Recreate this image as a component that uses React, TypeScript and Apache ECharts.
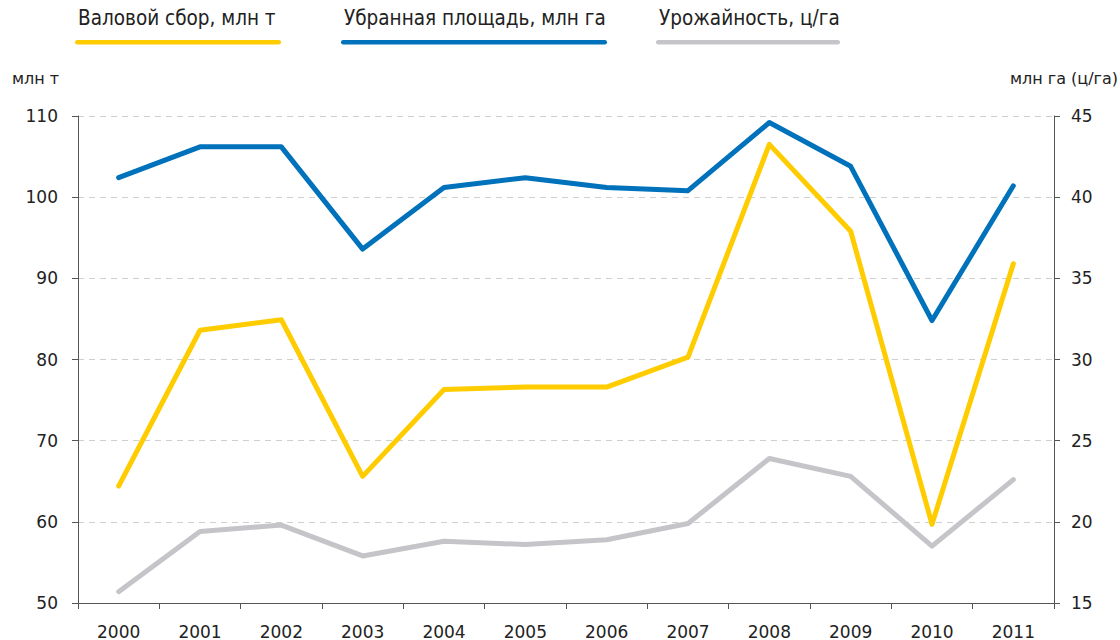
import React, { useEffect, useRef } from "react";
import * as echarts from "echarts";

const years = ["2000", "2001", "2002", "2003", "2004", "2005", "2006", "2007", "2008", "2009", "2010", "2011"];
const seriesNames = ["Валовой сбор, млн т", "Убранная площадь, млн га", "Урожайность, ц/га"];
const grossHarvest = [64.4, 83.6, 84.9, 65.6, 76.3, 76.6, 76.6, 80.3, 106.5, 95.8, 59.7, 91.8];
const harvestedArea = [41.2, 43.1, 43.1, 36.8, 40.6, 41.2, 40.6, 40.4, 44.6, 41.9, 32.4, 40.7];
const yieldPerHa = [15.7, 19.4, 19.8, 17.9, 18.8, 18.6, 18.9, 19.9, 23.9, 22.8, 18.5, 22.6];
const leftAxisName = "млн т";
const rightAxisName = "млн га (ц/га)";

const colors = ["#FFCC00", "#0071BB", "#C5C5C9"];
const FONT = "DejaVu Sans";
const LEGEND_FONT = "DejaVu Sans Condensed";

export default function App() {
  const ref = useRef<HTMLDivElement>(null);
  useEffect(() => {
    if (!ref.current) return;
    const chart = echarts.init(ref.current, null, { renderer: "svg" });
    const legendPos = [
      { tx: 78, lx1: 75, lx2: 281 },
      { tx: 344, lx1: 341, lx2: 607 },
      { tx: 659, lx1: 656, lx2: 840 },
    ];
    const graphic: any[] = [];
    seriesNames.forEach((name, i) => {
      const p = legendPos[i];
      graphic.push({
        type: "text",
        left: p.tx,
        top: 7,
        style: { text: name, font: `20.5px '${LEGEND_FONT}'`, fill: "#222" },
      });
      graphic.push({
        type: "rect",
        shape: { x: p.lx1, y: 40, width: p.lx2 - p.lx1, height: 4.5, r: 2.25 },
        style: { fill: colors[i] },
      });
    });
    graphic.push({
      type: "text",
      left: 12,
      top: 70,
      style: { text: leftAxisName, font: `16px '${FONT}'`, fill: "#222" },
    });
    graphic.push({
      type: "text",
      right: 2,
      top: 70,
      style: { text: rightAxisName, font: `16px '${FONT}'`, fill: "#222" },
    });

    const axisLine = { show: true, lineStyle: { color: "#555", width: 1 } };
    const axisTick = { show: true, length: 6, lineStyle: { color: "#555", width: 1 } };
    const labelStyle = { fontFamily: FONT, fontSize: 17, color: "#222" };

    chart.setOption({
      animation: false,
      backgroundColor: "#fff",
      graphic,
      grid: { left: 78, right: 66, top: 116, bottom: 37, containLabel: false },
      xAxis: {
        type: "category",
        data: years,
        boundaryGap: true,
        axisLine,
        axisTick: { ...axisTick, alignWithLabel: false },
        axisLabel: { ...labelStyle, margin: 20, interval: 0 },
        splitLine: { show: false },
      },
      yAxis: [
        {
          type: "value",
          min: 50,
          max: 110,
          interval: 10,
          axisLine,
          axisTick,
          axisLabel: { ...labelStyle, margin: 20 },
          splitLine: { show: true, lineStyle: { color: "#cfcfcf", type: [6, 5], width: 1 } },
        },
        {
          type: "value",
          min: 15,
          max: 45,
          interval: 5,
          position: "right",
          axisLine,
          axisTick,
          axisLabel: { ...labelStyle, margin: 17 },
          splitLine: { show: false },
        },
      ],
      series: [
        {
          name: seriesNames[0],
          type: "line",
          data: grossHarvest,
          yAxisIndex: 0,
          symbol: "none",
          lineStyle: { color: colors[0], width: 5, cap: "round", join: "round" },
          z: 3,
        },
        {
          name: seriesNames[1],
          type: "line",
          data: harvestedArea,
          yAxisIndex: 1,
          symbol: "none",
          lineStyle: { color: colors[1], width: 5, cap: "round", join: "round" },
          z: 2,
        },
        {
          name: seriesNames[2],
          type: "line",
          data: yieldPerHa,
          yAxisIndex: 1,
          symbol: "none",
          lineStyle: { color: colors[2], width: 5, cap: "round", join: "round" },
          z: 1,
        },
      ],
    });
    return () => chart.dispose();
  }, []);
  return (
    <div
      ref={ref}
      style={{ position: "absolute", left: 0, top: 0, width: 1120, height: 640, background: "#fff" }}
    />
  );
}
